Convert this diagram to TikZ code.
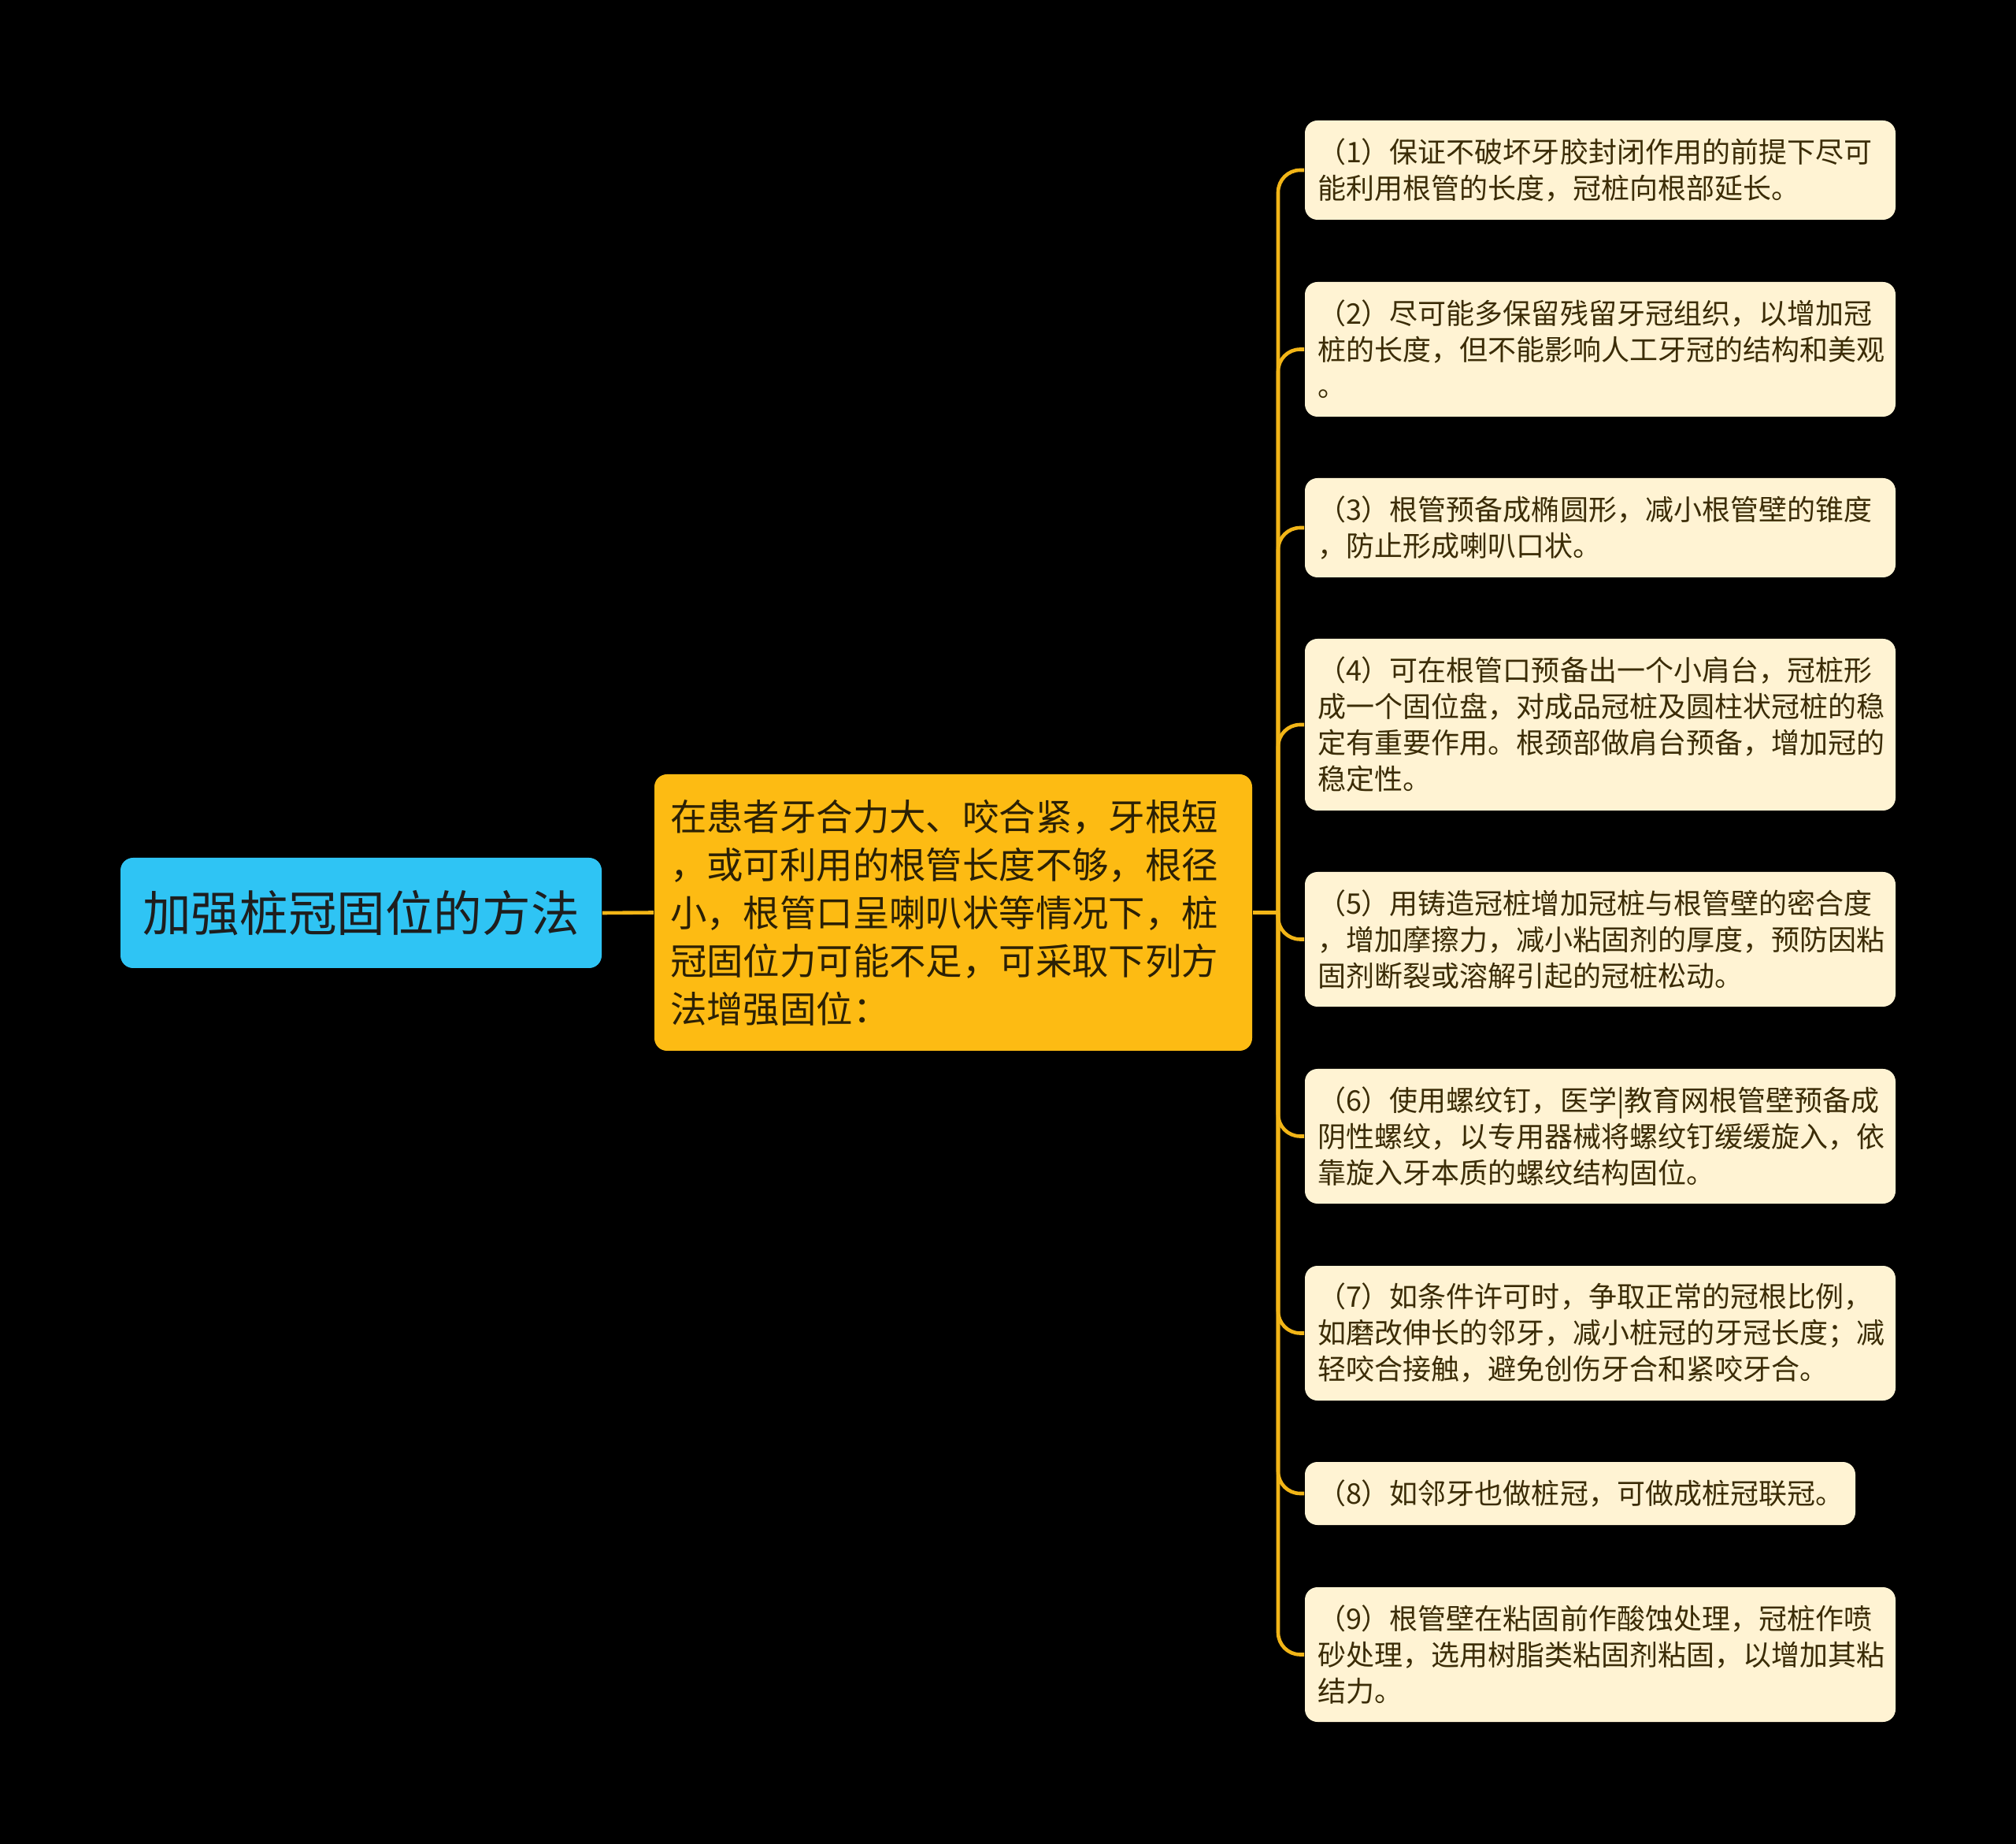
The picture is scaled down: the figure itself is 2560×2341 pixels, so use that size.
\documentclass[tikz,border=0pt]{standalone}
\usepackage{fontspec}
\newfontfamily\cjk{Noto Sans CJK SC}
\definecolor{bgc}{HTML}{000000}
\definecolor{rootfill}{HTML}{2FC4F4}
\definecolor{roottext}{HTML}{1E1E1E}
\definecolor{mainfill}{HTML}{FDBB13}
\definecolor{maintext}{HTML}{2B2005}
\definecolor{leaffill}{HTML}{FFF3D3}
\definecolor{leaftext}{HTML}{3B2C06}
\definecolor{linec}{HTML}{F2B517}
\tikzset{
  rootnode/.style={fill=rootfill, text=roottext, rounded corners=4pt,
    minimum width=152.75pt, minimum height=35pt, inner sep=0pt,
    font=\cjk\fontsize{15.4}{18}\selectfont},
  mainnode/.style={fill=mainfill, text=maintext, rounded corners=4pt,
    text width=179.75pt, inner xsep=5pt, inner ysep=0pt, align=left,
    minimum height=87.75pt,
    font=\cjk\fontsize{11.6}{15.25}\selectfont},
  leafnode/.style={fill=leaffill, text=leaftext, rounded corners=4pt,
    text width=179.5pt, inner xsep=4pt, inner ysep=0pt, align=left,
    font=\cjk\fontsize{9}{11.5}\selectfont},
  conn/.style={draw=linec, line width=1.15pt},
}
\begin{document}
\begin{tikzpicture}[x=0.25pt,y=-0.25pt]
\fill[bgc] (0,0) rectangle (2560,2341);
\useasboundingbox (0,0) rectangle (2560,2341);

\node[rootnode] (root) at (458.5,1159) {加强桩冠固位的方法};
\node[mainnode] (main) at (1210.5,1158.5) {在患者牙合力大、咬合紧，牙根短\\，或可利用的根管长度不够，根径\\小，根管口呈喇叭状等情况下，桩\\冠固位力可能不足，可采取下列方\\法增强固位：};

\node[leafnode, minimum height=31.5pt] (l1) at (2032,216) {（1）保证不破坏牙胶封闭作用的前提下尽可\\能利用根管的长度，冠桩向根部延长。};
\node[leafnode, minimum height=42.75pt] (l2) at (2032,443.5) {（2）尽可能多保留残留牙冠组织，以增加冠\\桩的长度，但不能影响人工牙冠的结构和美观\\。};
\node[leafnode, minimum height=31.5pt] (l3) at (2032,670) {（3）根管预备成椭圆形，减小根管壁的锥度\\，防止形成喇叭口状。};
\node[leafnode, minimum height=54.5pt] (l4) at (2032,920) {（4）可在根管口预备出一个小肩台，冠桩形\\成一个固位盘，对成品冠桩及圆柱状冠桩的稳\\定有重要作用。根颈部做肩台预备，增加冠的\\稳定性。};
\node[leafnode, minimum height=42.75pt] (l5) at (2032,1192.5) {（5）用铸造冠桩增加冠桩与根管壁的密合度\\，增加摩擦力，减小粘固剂的厚度，预防因粘\\固剂断裂或溶解引起的冠桩松动。};
\node[leafnode, minimum height=42.75pt] (l6) at (2032,1442.5) {（6）使用螺纹钉，医学|教育网根管壁预备成\\阴性螺纹，以专用器械将螺纹钉缓缓旋入，依\\靠旋入牙本质的螺纹结构固位。};
\node[leafnode, minimum height=42.75pt] (l7) at (2032,1692.5) {（7）如条件许可时，争取正常的冠根比例，\\如磨改伸长的邻牙，减小桩冠的牙冠长度；减\\轻咬合接触，避免创伤牙合和紧咬牙合。};
\node[leafnode, minimum height=20pt, text width=166.75pt] (l8) at (2006.5,1896) {（8）如邻牙也做桩冠，可做成桩冠联冠。};
\node[leafnode, minimum height=42.75pt] (l9) at (2032,2100.5) {（9）根管壁在粘固前作酸蚀处理，冠桩作喷\\砂处理，选用树脂类粘固剂粘固，以增加其粘\\结力。};

\coordinate (j) at (1623,1158.5);
\draw[conn] (root.east) -- (main.west);
\draw[conn] (main.east) -- (j);
\foreach \l in {l1,l2,l3,l4,l5,l6,l7,l8,l9}{
  \draw[conn, rounded corners=7pt] (j) |- (\l.west);
}
\end{tikzpicture}
\end{document}
